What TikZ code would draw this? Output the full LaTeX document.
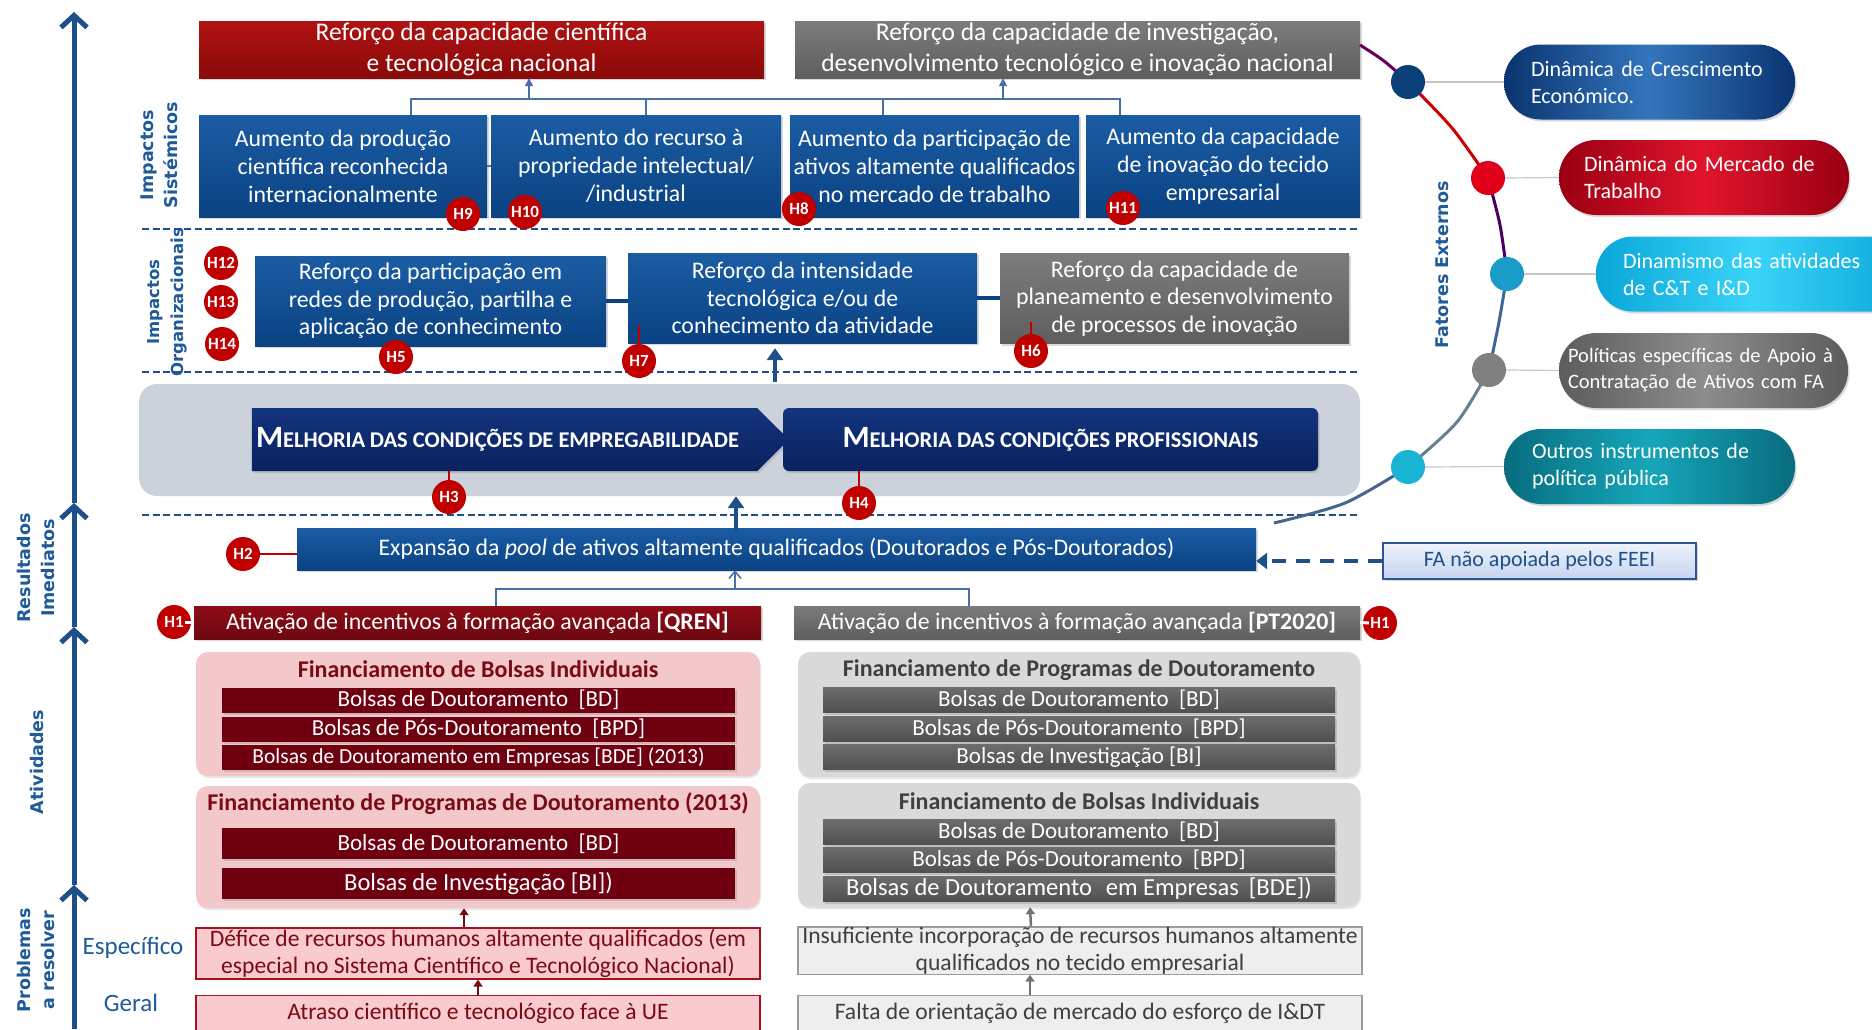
\documentclass[tikz,border=0pt]{standalone}
\usepackage{fontspec}
\setmainfont{Carlito}
\newfontfamily\sidefont{DejaVu Sans}
\usetikzlibrary{shapes.symbols}
\usetikzlibrary{arrows.meta}
\usetikzlibrary{shadows}
\usetikzlibrary{calc}

\definecolor{sysT}{HTML}{1B5CA3}
\definecolor{sysB}{HTML}{0A4283}
\definecolor{redT}{HTML}{B01212}
\definecolor{redB}{HTML}{8A0A0A}
\definecolor{greyT}{HTML}{7C7C7C}
\definecolor{greyB}{HTML}{5E5E5E}
\definecolor{navyT}{HTML}{13347E}
\definecolor{navyB}{HTML}{0A215E}
\definecolor{hred}{HTML}{C00000}
\definecolor{actT}{HTML}{8E0C16}
\definecolor{actB}{HTML}{6E0810}
\definecolor{barred}{HTML}{6E0010}
\definecolor{pinkpanel}{HTML}{F2C8CB}
\definecolor{greypanel}{HTML}{D9D9D9}
\definecolor{bargreyT}{HTML}{6C6C6C}
\definecolor{bargreyB}{HTML}{505050}
\definecolor{titlered}{HTML}{7B0A14}
\definecolor{titlegrey}{HTML}{3F3F3F}
\definecolor{probpink}{HTML}{F9CACE}
\definecolor{probred}{HTML}{A8101E}
\definecolor{probgrey}{HTML}{EEEEEE}
\definecolor{probline}{HTML}{9C9C9C}
\definecolor{labelblue}{HTML}{1F5A99}
\definecolor{axisblue}{HTML}{1E4F88}
\definecolor{bandgrey}{HTML}{CCD2DC}
\definecolor{brkblue}{HTML}{4A6EA8}
\definecolor{faT}{HTML}{EEF3FB}
\definecolor{faB}{HTML}{C5D4EE}
\definecolor{faline}{HTML}{2E5597}
\definecolor{pAE}{HTML}{0A3470}
\definecolor{pAM}{HTML}{3375BC}
\definecolor{pBE}{HTML}{9A0012}
\definecolor{pBM}{HTML}{E0142C}
\definecolor{pCE}{HTML}{0AA6D8}
\definecolor{pCM}{HTML}{3AD4F8}
\definecolor{pDE}{HTML}{5C5C5C}
\definecolor{pDM}{HTML}{8C8C8C}
\definecolor{pEE}{HTML}{086C7E}
\definecolor{pEM}{HTML}{16A6BA}
\definecolor{dotA}{HTML}{0B3F7A}
\definecolor{dotB}{HTML}{E0001A}
\definecolor{dotC}{HTML}{1A9CC8}
\definecolor{dotD}{HTML}{808080}
\definecolor{dotE}{HTML}{19B4D4}

\newcommand{\fsc}[2]{{\fontsize{31}{34}\selectfont #1}{\fontsize{22.5}{26}\selectfont #2}}

\tikzset{
	box/.style={inner sep=0pt, align=center, text=white, drop shadow={shadow xshift=1.5pt, shadow yshift=-2pt, opacity=0.3}},
	sysbox/.style={box, top color=sysT, bottom color=sysB, font=\fontsize{23.8}{28}\selectfont},
	topred/.style={box, top color=redT, bottom color=redB, font=\fontsize{25.5}{31}\selectfont},
	topgrey/.style={box, top color=greyT, bottom color=greyB, font=\fontsize{25.5}{31}\selectfont},
	orgbox/.style={box, top color=sysT, bottom color=sysB, font=\fontsize{23.8}{27.5}\selectfont},
	orggrey/.style={box, top color=greyT, bottom color=greyB, font=\fontsize{23.8}{27.5}\selectfont},
	melhor/.style={box, top color=navyT, bottom color=navyB, font=\bfseries},
	actred/.style={box, top color=actT, bottom color=actB, font=\fontsize{23.8}{26}\selectfont},
	actgrey/.style={box, top color=greyT, bottom color=greyB, font=\fontsize{23.8}{26}\selectfont},
	panel/.style={rounded corners=12pt, inner sep=0pt, drop shadow={shadow xshift=1pt, shadow yshift=-2pt, opacity=0.2}},
	bar/.style={box, font=\fontsize{23}{24}\selectfont},
	ptitle/.style={font=\bfseries\fontsize{24}{26}\selectfont},
	prob/.style={inner sep=0pt, align=center, font=\fontsize{23.6}{27}\selectfont, line width=1.2pt},
	hbadge/.style={circle, fill=hred, text=white, inner sep=0pt, minimum size=34, font=\bfseries\fontsize{17}{17}\selectfont},
	hline/.style={draw=hred, line width=2pt},
	sidelabel/.style={rotate=90, align=center, text=labelblue, font=\sidefont\bfseries\fontsize{17.5}{24}\selectfont},
	axis/.style={draw=axisblue, line width=5pt, -{Straight Barb[length=12pt, width=26pt]}},
	sep/.style={draw=axisblue, line width=2.6pt, dash pattern=on 7pt off 3.5pt},
	brk/.style={draw=brkblue, line width=1.6pt},
	bigarrow/.style={draw=axisblue, line width=4pt, -{Triangle[length=12pt, width=16pt]}},
	pill/.style={rounded corners=37pt, inner sep=0pt, align=left, text=white, minimum height=75, font=\fontsize{22}{27}\selectfont, drop shadow={shadow xshift=1.5pt, shadow yshift=-2pt, opacity=0.3}},
	dot/.style={circle, inner sep=0pt, minimum size=34},
	arcline/.style={line width=3pt},
	feeder/.style={draw=black!22, line width=1.2pt}
}

\begin{document}
\begin{tikzpicture}[x=1pt,y=-1pt]
	\useasboundingbox (0,0) rectangle (1872,1029);

	\coordinate (ax0) at (74,1029);
	\coordinate (ax1) at (74,885);
	\coordinate (ax2) at (74,627);
	\coordinate (ax3) at (74,503);
	\coordinate (ax4) at (74,12);
	\draw[axis] (ax0) -- (ax1);
	\draw[axis] (ax1) -- (ax2);
	\draw[axis] (ax2) -- (ax3);
	\draw[axis] (ax3) -- (ax4);

	\node[sidelabel] (lsis) at (159,155) {Impactos\\Sistémicos};
	\node[sidelabel, font=\sidefont\bfseries\fontsize{16.5}{24}\selectfont] (lorg) at (167,302) {Impactos\\Organizacionais};
	\node[sidelabel] (lind) at (167,440) {Impactos\\Individuais};
	\node[sidelabel] (lres) at (36,568) {Resultados\\Imediatos};
	\node[sidelabel] (latv) at (37,762) {Atividades};
	\node[sidelabel] (lprb) at (36,960) {Problemas\\a resolver};
	\node[font=\fontsize{25}{28}\selectfont, text=labelblue] (lesp) at (133,948) {Específico};
	\node[font=\fontsize{25}{28}\selectfont, text=labelblue] (lger) at (131,1003) {Geral};

	\draw[sep] (142,229) -- (1360,229);
	\draw[sep] (142,372) -- (1360,372);
	\draw[sep] (142,515) -- (1360,515);

	% impactos sistemicos
	\node[topred, minimum width=565, minimum height=57] (top1) at (481.5,49.5) {Reforço da capacidade científica\\e tecnológica nacional};
	\node[topgrey, minimum width=565, minimum height=57] (top2) at (1077.5,49.5) {Reforço da capacidade de investigação,\\desenvolvimento tecnológico e inovação nacional};
	\node[sysbox, minimum width=288, minimum height=102] (s1) at (343,166) {Aumento da produção\\científica reconhecida\\internacionalmente};
	\node[sysbox, minimum width=290, minimum height=102] (s2) at (636,166) {Aumento do recurso à\\propriedade intelectual/\\/industrial};
	\node[sysbox, minimum width=289, minimum height=102] (s3) at (934.5,166) {Aumento da participação de\\ativos altamente qualificados\\no mercado de trabalho};
	\node[sysbox, minimum width=274, minimum height=102] (s4) at (1223,166) {Aumento da capacidade\\de inovação do tecido\\empresarial};
	\draw[brk] ([xshift=68pt]s1.north) -- ++(0,-16) -| ([xshift=-103pt]s4.north);
	\draw[brk] ([xshift=10pt]s2.north) -- ++(0,-16);
	\draw[brk] ([xshift=-51.5pt]s3.north) -- ++(0,-16);
	\coordinate (j1) at (529,99);
	\coordinate (j2) at (1003,99);
	\draw[brk, -{Triangle[length=8pt, width=8pt]}] (j1) -- (j1 |- top1.south);
	\draw[brk, -{Triangle[length=8pt, width=8pt]}] (j2) -- (j2 |- top2.south);
	\draw[brkblue, line width=1.2pt] (s1.east) -- (s2.west);

	% impactos organizacionais
	\node[orgbox, minimum width=351, minimum height=90] (o1) at (430.5,301) {Reforço da participação em\\redes de produção, partilha e\\aplicação de conhecimento};
	\node[orgbox, minimum width=349, minimum height=90] (o2) at (802.5,298) {Reforço da intensidade\\tecnológica e/ou de\\conhecimento da atividade};
	\node[orggrey, minimum width=349, minimum height=90] (o3) at (1174.5,298.5) {Reforço da capacidade de\\planeamento e desenvolvimento\\de processos de inovação};
	\draw[sysB, line width=4pt] (o1.east) -- (o1.east -| o2.west);
	\draw[sysB, line width=4pt] (o2.east) -- (o2.east -| o3.west);

	% impactos individuais
	\node[fill=bandgrey, rounded corners=18pt, minimum width=1221, minimum height=112, inner sep=0pt] (band) at (749.5,440) {};
	\node[melhor, shape=signal, signal to=east, signal pointer angle=90, minimum width=537, minimum height=63] (m1) at (504.5,439.5) {\hspace*{-14pt}\fsc{M}{ELHORIA}\ \ \fsc{}{DAS CONDIÇÕES DE EMPREGABILIDADE}};
	\node[melhor, rounded corners=6pt, minimum width=535, minimum height=63] (m2) at (1050.5,439.5) {\fsc{M}{ELHORIA DAS CONDIÇÕES}\ \ \fsc{}{PROFISSIONAIS}};
	\coordinate (up1) at (775,382);
	\draw[bigarrow] (up1) -- ($(up1 |- o2.south)+(0,5)$);

	% resultados imediatos
	\node[box, top color=sysT, bottom color=sysB, minimum width=959, minimum height=42, font=\fontsize{23.8}{26}\selectfont] (ex) at (776.5,549) {Expansão da \textit{pool} de ativos altamente qualificados (Doutorados e Pós-Doutorados)};
	\node[box, top color=faT, bottom color=faB, draw=faline, line width=1.5pt, text=axisblue, minimum width=313, minimum height=36, font=\fontsize{22}{24}\selectfont] (fa) at (1539.5,561) {FA não apoiada pelos FEEI};
	\draw[axisblue, line width=4pt, dash pattern=on 14pt off 10pt, -{Triangle[length=11pt, width=16pt]}] (fa.west) -- (fa.west -| ex.east);
	\coordinate (up2) at (736,531);
	\draw[bigarrow] (up2) -- (up2 |- band.south);

	\node[actred, minimum width=567, minimum height=33] (a1) at (477.5,622.5) {Ativação de incentivos à formação avançada \textbf{[QREN]}};
	\node[actgrey, minimum width=566, minimum height=33] (a2) at (1077,622.5) {Ativação de incentivos à formação avançada \textbf{[PT2020]}};
	\draw[brk] ([xshift=18.5pt]a1.north) -- ++(0,-17) -| ([xshift=-108pt]a2.north);
	\coordinate (j3) at (735,589);
	\draw[brk, -{Straight Barb[length=7pt, width=12pt]}] (j3) -- (j3 |- ex.south);

	% atividades
	\node[panel, fill=pinkpanel, minimum width=564, minimum height=124] (pl1) at (478,714) {};
	\node[panel, fill=pinkpanel, minimum width=564, minimum height=122] (pl2) at (478,847) {};
	\node[panel, fill=greypanel, minimum width=562, minimum height=125] (pr1) at (1079,714.5) {};
	\node[panel, fill=greypanel, minimum width=562, minimum height=124] (pr2) at (1079,845) {};
	\node[ptitle, text=titlered] (tl1) at ([yshift=-17pt]pl1.north) {Financiamento de Bolsas Individuais};
	\node[ptitle, text=titlered] (tl2) at ([yshift=-18pt]pl2.north) {Financiamento de Programas de Doutoramento (2013)};
	\node[ptitle, text=titlegrey] (tr1) at ([yshift=-18pt]pr1.north) {Financiamento de Programas de Doutoramento};
	\node[ptitle, text=titlegrey] (tr2) at ([yshift=-18pt]pr2.north) {Financiamento de Bolsas Individuais};

	\node[bar, fill=barred, minimum width=513, minimum height=25] (bl1) at (478.5,700) {Bolsas de Doutoramento\ \ [BD]};
	\node[bar, fill=barred, minimum width=513, minimum height=25] (bl2) at (478.5,729) {Bolsas de Pós-Doutoramento\ \ [BPD]};
	\node[bar, fill=barred, minimum width=513, minimum height=25, font=\fontsize{21.5}{24}\selectfont] (bl3) at (478.5,757) {Bolsas de Doutoramento em Empresas [BDE] (2013)};
	\node[bar, fill=barred, minimum width=513, minimum height=31] (bl4) at (478.5,843.5) {Bolsas de Doutoramento\ \ [BD]};
	\node[bar, fill=barred, minimum width=513, minimum height=31, font=\fontsize{24.5}{26}\selectfont] (bl5) at (478.5,883.5) {Bolsas de Investigação [BI])};
	\node[bar, top color=bargreyT, bottom color=bargreyB, minimum width=512, minimum height=25] (br1) at (1079,700) {Bolsas de Doutoramento\ \ [BD]};
	\node[bar, top color=bargreyT, bottom color=bargreyB, minimum width=512, minimum height=25] (br2) at (1079,729) {Bolsas de Pós-Doutoramento\ \ [BPD]};
	\node[bar, top color=bargreyT, bottom color=bargreyB, minimum width=512, minimum height=25] (br3) at (1079,757) {Bolsas de Investigação [BI]};
	\node[bar, top color=bargreyT, bottom color=bargreyB, minimum width=512, minimum height=25] (br4) at (1079,832) {Bolsas de Doutoramento\ \ [BD]};
	\node[bar, top color=bargreyT, bottom color=bargreyB, minimum width=512, minimum height=25] (br5) at (1079,860) {Bolsas de Pós-Doutoramento\ \ [BPD]};
	\node[bar, top color=bargreyT, bottom color=bargreyB, minimum width=512, minimum height=25, font=\fontsize{24.5}{26}\selectfont] (br6) at (1079,889) {Bolsas de Doutoramento\hspace{14pt}em Empresas\hspace{10pt}[BDE])};

	% problemas a resolver
	\node[prob, fill=probpink, draw=probred, text=titlered, minimum width=564, minimum height=51] (pbl1) at (478,953.5) {Défice de recursos humanos altamente qualificados (em\\especial no Sistema Científico e Tecnológico Nacional)};
	\node[prob, fill=probpink, draw=probred, text=titlered, minimum width=564, minimum height=35] (pbl2) at (478,1013) {Atraso científico e tecnológico face à UE};
	\node[prob, fill=probgrey, draw=probline, text=titlegrey, minimum width=564, minimum height=45] (pbr1) at (1080,950.5) {Insuficiente incorporação de recursos humanos altamente\\qualificados no tecido empresarial};
	\node[prob, fill=probgrey, draw=probline, text=titlegrey, minimum width=564, minimum height=35] (pbr2) at (1080,1013) {Falta de orientação de mercado do esforço de I\&DT};
	\draw[titlered, line width=2.5pt, -{Triangle[length=7pt, width=9pt]}] ([xshift=-14pt]pbl1.north) -- ([xshift=-14pt]pl2.south);
	\draw[titlered, line width=2.5pt, -{Triangle[length=7pt, width=9pt]}] (pbl2.north) -- (pbl1.south);
	\draw[black!55, line width=2.5pt, -{Triangle[length=7pt, width=9pt]}] ([xshift=-49pt]pbr1.north) -- ([xshift=-49pt]pr2.south);
	\draw[black!55, line width=2.5pt, -{Triangle[length=7pt, width=9pt]}] ([xshift=-50pt]pbr2.north) -- ([xshift=-50pt]pbr1.south);

	% hipoteses
	\node[hbadge] (h9) at (463,214) {H9};
	\node[hbadge] (h10) at (525,212) {H10};
	\node[hbadge] (h8) at (799,209) {H8};
	\node[hbadge] (h11) at (1123,208) {H11};
	\node[hbadge] (h12) at (221,263) {H12};
	\node[hbadge] (h13) at (221,302) {H13};
	\node[hbadge] (h14) at (222,344) {H14};
	\node[hbadge] (h5) at (396,357) {H5};
	\draw[hline] (639,361) -- ($(639,361 |- o2.south)+(0,-18)$);
	\node[hbadge] (h7) at (639,361) {H7};
	\draw[hline] (1031,351) -- ($(1031,351 |- o3.south)+(0,-22)$);
	\node[hbadge] (h6) at (1031,351) {H6};
	\draw[hline] (449,497) -- (449,497 |- m1.south);
	\node[hbadge] (h3) at (449,497) {H3};
	\draw[hline] (859,503) -- (859,503 |- m2.south);
	\node[hbadge] (h4) at (859,503) {H4};
	\draw[hline] (243,554) -- (243,554 -| ex.west);
	\node[hbadge] (h2) at (243,554) {H2};
	\node[hbadge] (h1a) at (174,622) {H1};
	\draw[white, line width=3pt] ([xshift=-6pt]h1a.east) -- (h1a -| a1.west);
	\node[hbadge] (h1b) at (1380,623) {H1};
	\draw[white, line width=3pt] (a2.east) -- ([xshift=6pt]h1b.west);

	% fatores externos
	\draw[arcline, color=black!40!blue!60!red] plot[smooth] coordinates {(1360,45) (1384,61) (1408,82)};
	\draw[arcline, color=red!80!black] plot[smooth] coordinates {(1408,82) (1452,128) (1488,178)};
	\draw[arcline, color=red!45!blue!65!black] plot[smooth] coordinates {(1488,178) (1500,225) (1507,274)};
	\draw[arcline, color=cyan!50!blue!70!black] plot[smooth] coordinates {(1507,274) (1499,322) (1489,370)};
	\draw[arcline, color=black!50!cyan!60!gray] plot[smooth] coordinates {(1489,370) (1457,422) (1408,467)};
	\draw[arcline, color=cyan!55!blue!60!black] plot[smooth] coordinates {(1408,467) (1345,503) (1274,523)};
	\node[sidelabel] (lfat) at (1442,265) {Fatores Externos};

	\node[pill, left color=pAE, right color=pAE, middle color=pAM, minimum width=291, text width=237, inner xsep=27pt] (p1) at (1649.5,82) {Dinâmica de Crescimento\\Económico.};
	\node[pill, left color=pBE, right color=pBE, middle color=pBM, minimum width=290, text width=240, inner xsep=25pt] (p2) at (1704,177.5) {Dinâmica do Mercado de\\Trabalho};
	\node[pill, left color=pCE, right color=pCE, middle color=pCM, minimum width=316, text width=262, inner xsep=27pt] (p3) at (1754,274) {Dinamismo das atividades\\de C\&T e I\&D};
	\node[pill, left color=pDE, right color=pDE, middle color=pDM, minimum width=289, text width=271, inner xsep=9pt, font=\fontsize{20.5}{26}\selectfont] (p4) at (1703.5,370.5) {Políticas específicas de Apoio à\\Contratação de Ativos com FA};
	\node[pill, left color=pEE, right color=pEE, middle color=pEM, minimum width=291, text width=235, inner xsep=28pt] (p5) at (1649.5,466.5) {Outros instrumentos de\\política pública};
	\node[dot, fill=dotA] (d1) at (1408,82) {};
	\node[dot, fill=dotB] (d2) at (1488,178) {};
	\node[dot, fill=dotC] (d3) at (1507,274) {};
	\node[dot, fill=dotD] (d4) at (1489,370) {};
	\node[dot, fill=dotE] (d5) at (1408,467) {};
	\draw[feeder] (d1.east) -- (p1.west);
	\draw[feeder] (d2.east) -- (p2.west);
	\draw[feeder] (d3.east) -- (p3.west);
	\draw[feeder] (d4.east) -- (p4.west);
	\draw[feeder] (d5.east) -- (p5.west);
\end{tikzpicture}
\end{document}
